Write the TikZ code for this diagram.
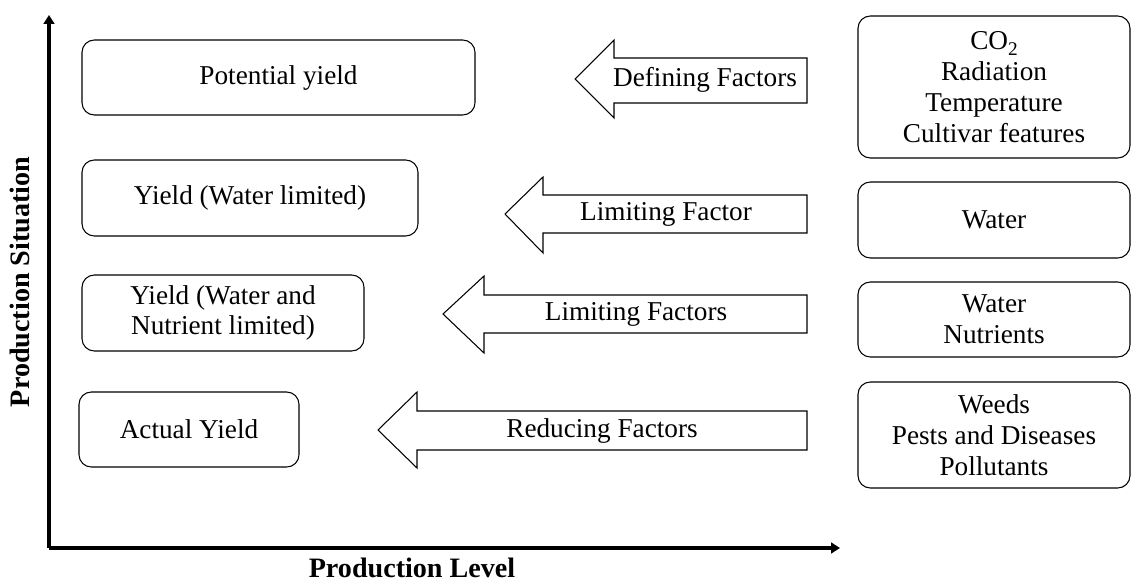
\documentclass[tikz,border=0pt]{standalone}
\usepackage{fontspec}
\setmainfont{Liberation Serif}
\usetikzlibrary{positioning, arrows.meta}

\begin{document}
\begin{tikzpicture}[
  x=0.02cm, y=-0.02cm,
  box/.style={draw, rounded corners=7pt, line width=0.6pt},
  blk/.style={draw, line width=0.6pt, fill=white},
  lbl/.style={font=\fontsize{15.5}{17.5}\selectfont},
  axis/.style={line width=2.2pt, -{Triangle[length=5pt, width=6pt]}},
  axlbl/.style={font=\fontsize{16}{18}\bfseries\selectfont}
]
\useasboundingbox (0,0) rectangle (1131,584);

% axes
\coordinate (orig) at (49,548);
\coordinate (ytop) at (49,15);
\coordinate (xend) at (840,548);
\draw[axis] (orig) -- (ytop);
\draw[axis] (orig) -- (xend);
\node[axlbl, rotate=90] (ylab) at (20,282) {Production Situation};
\node[axlbl, inner sep=1pt] (xlab) at (412,568) {Production Level};

% yield levels
\draw[box] (82,40) rectangle (475,115);
\node[lbl] (pot) at (278.5,77.5) {Potential yield};
\draw[box] (82,160) rectangle (418,236);
\node[lbl] (wat) at (250,198) {Yield (Water limited)};
\draw[box] (82,275) rectangle (364,351);
\node[lbl, align=center] (nut) at (223,313) {Yield (Water and\\Nutrient limited)};
\draw[box] (79,392) rectangle (299,467);
\node[lbl] (act) at (189,429.5) {Actual Yield};

% factors
\draw[box] (858,16) rectangle (1130,158);
\node[lbl, align=center] (deff) at (994,87) {CO\raisebox{-0.45ex}{\fontsize{11}{11}\selectfont 2}\\Radiation\\Temperature\\Cultivar features};
\draw[box] (858,182) rectangle (1130,258);
\node[lbl] (limw) at (994,220) {Water};
\draw[box] (858,282) rectangle (1130,357);
\node[lbl, align=center] (limn) at (994,319.5) {Water\\Nutrients};
\draw[box] (858,382) rectangle (1130,488);
\node[lbl, align=center] (redf) at (994,435) {Weeds\\Pests and Diseases\\Pollutants};

% block arrows
\draw[blk] (575,79) -- (614,40) -- (614,58) -- (807,58) -- (807,103) -- (614,103) -- (614,118) -- cycle;
\node[lbl] (defa) at (705,80) {Defining Factors};
\draw[blk] (505,214) -- (543,177) -- (543,195) -- (807,195) -- (807,233) -- (543,233) -- (543,253) -- cycle;
\node[lbl] (lima) at (666,214) {Limiting Factor};
\draw[blk] (443,314) -- (484,276) -- (484,295) -- (807,295) -- (807,333) -- (484,333) -- (484,353) -- cycle;
\node[lbl] (limb) at (636,314) {Limiting Factors};
\draw[blk] (378,430) -- (417,392) -- (417,411) -- (807,411) -- (807,450) -- (417,450) -- (417,468) -- cycle;
\node[lbl] (reda) at (602,430.5) {Reducing Factors};
\end{tikzpicture}
\end{document}
